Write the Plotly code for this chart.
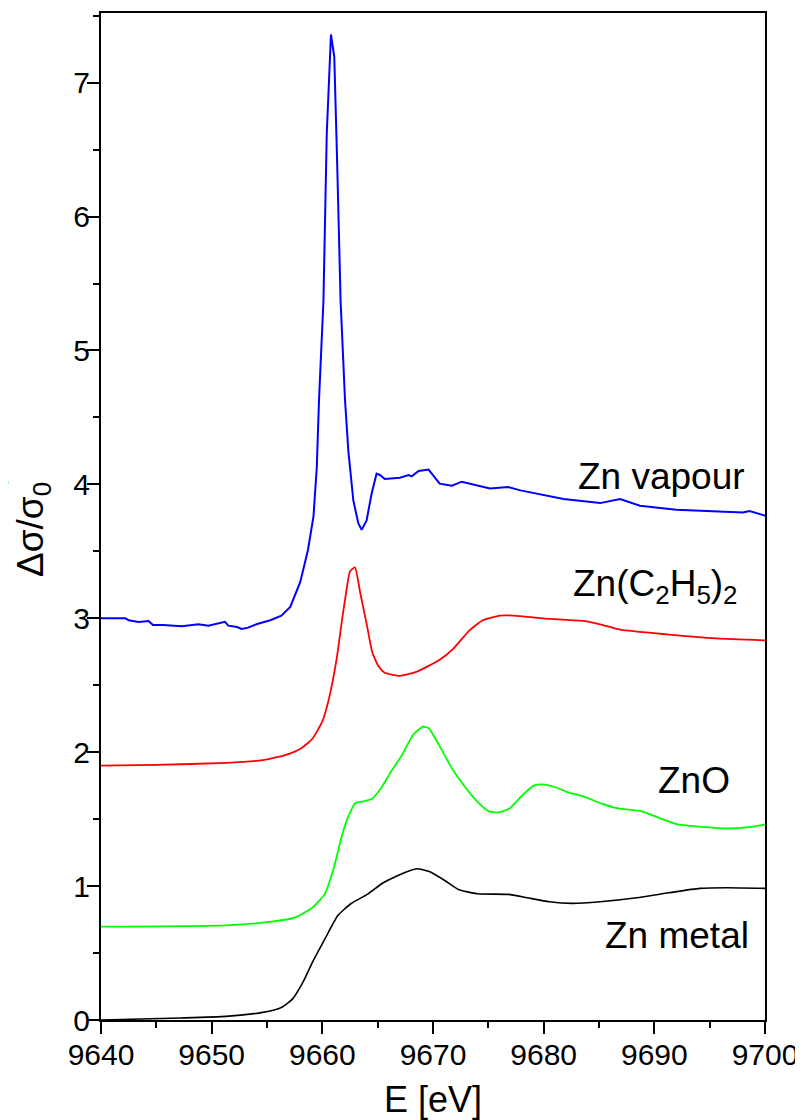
import plotly.graph_objects as go

# ---------------- data ----------------
vap_x = [9640.0, 9642.2, 9642.5, 9643.4, 9644.3, 9644.7, 9645.6, 9647.3, 9648.8, 9649.7,
         9651.2, 9651.5, 9652.3, 9652.7, 9653.3, 9654.1, 9655.3, 9656.3, 9657.1, 9658.0,
         9658.7, 9659.2, 9659.5, 9659.7, 9660.1, 9660.4, 9660.78, 9661.08, 9661.35, 9661.65,
         9662.05, 9662.35, 9662.8, 9663.25, 9663.55, 9664.0, 9664.45, 9664.9, 9665.2, 9665.65,
         9667.0, 9667.8, 9668.07, 9668.7, 9669.6, 9670.0, 9670.6, 9671.7, 9672.6, 9675.15,
         9676.8, 9677.9, 9681.8, 9685.1, 9686.9, 9688.7, 9692.0, 9698.0, 9698.6, 9699.85, 9700.0]
vap_y = [3.00, 3.00, 2.985, 2.973, 2.98, 2.95, 2.95, 2.94, 2.955, 2.945,
         2.973, 2.945, 2.935, 2.92, 2.93, 2.957, 2.985, 3.02, 3.085, 3.27,
         3.51, 3.76, 4.13, 4.63, 5.37, 6.62, 7.36, 7.19, 6.37, 5.37,
         4.63, 4.25, 3.88, 3.71, 3.66, 3.73, 3.93, 4.08, 4.07, 4.04,
         4.05, 4.07, 4.06, 4.10, 4.11, 4.07, 4.005, 3.99, 4.02, 3.97,
         3.98, 3.955, 3.89, 3.86, 3.89, 3.84, 3.81, 3.79, 3.80, 3.77, 3.765]

det_x = [9640.0, 9645.0, 9651.3, 9654.6, 9656.7, 9658.1, 9659.1, 9660.0, 9660.6, 9661.3,
         9661.8, 9662.2, 9662.5, 9662.95, 9663.4, 9664.0, 9664.5, 9665.05, 9665.6, 9667.0,
         9668.5, 9670.6, 9671.8, 9673.3, 9674.5, 9676.05, 9677.25, 9680.6, 9683.6, 9685.1,
         9686.9, 9691.1, 9695.6, 9700.0]
det_y = [1.90, 1.905, 1.92, 1.94, 1.98, 2.03, 2.10, 2.23, 2.40, 2.70,
         3.00, 3.22, 3.35, 3.38, 3.20, 2.96, 2.75, 2.645, 2.595, 2.57,
         2.60, 2.69, 2.77, 2.91, 2.985, 3.02, 3.02, 2.995, 2.98, 2.955,
         2.915, 2.88, 2.85, 2.835]

zno_x = [9640.0, 9651.3, 9655.4, 9657.5, 9659.1, 9660.2, 9661.0, 9661.8, 9662.4, 9663.0,
         9663.7, 9664.5, 9665.3, 9666.1, 9667.2, 9668.2, 9669.1, 9669.6, 9670.7, 9671.7,
         9672.9, 9674.0, 9675.0, 9675.9, 9676.9, 9678.1, 9679.1, 9679.9, 9681.0, 9682.2,
         9683.6, 9685.1, 9686.7, 9688.8, 9690.4, 9692.1, 9694.5, 9696.6, 9698.6, 9700.0]
zno_y = [0.697, 0.707, 0.734, 0.764, 0.839, 0.938, 1.124, 1.385, 1.53, 1.62,
         1.633, 1.653, 1.73, 1.84, 1.98, 2.13, 2.19, 2.18, 2.03, 1.88,
         1.74, 1.63, 1.56, 1.55, 1.58, 1.68, 1.75, 1.76, 1.74, 1.70,
         1.67, 1.62, 1.58, 1.56, 1.51, 1.46, 1.44, 1.43, 1.44, 1.46]

met_x = [9640.0, 9647.2, 9651.3, 9654.6, 9656.3, 9657.3, 9658.3, 9659.1, 9660.2, 9661.4,
         9662.6, 9664.1, 9665.5, 9667.4, 9668.6, 9669.6, 9671.1, 9672.3, 9674.0, 9676.8,
         9678.5, 9680.5, 9682.6, 9685.1, 9688.4, 9691.3, 9694.1, 9696.6, 9700.0]
met_y = [0.00, 0.015, 0.027, 0.057, 0.094, 0.156, 0.29, 0.43, 0.60, 0.78,
         0.87, 0.94, 1.025, 1.10, 1.13, 1.11, 1.04, 0.975, 0.943, 0.938,
         0.913, 0.883, 0.871, 0.883, 0.913, 0.95, 0.983, 0.988, 0.983]

x_ticks = [9640, 9650, 9660, 9670, 9680, 9690, 9700]
y_ticks = [0, 1, 2, 3, 4, 5, 6, 7]

labels = ["Zn vapour", "Zn(C<sub>2</sub>H<sub>5</sub>)<sub>2</sub>", "ZnO", "Zn metal"]
label_x = [9698.4, 9697.7, 9697.0, 9698.7]
label_y = [4.06, 3.24, 1.79, 0.63]

FONT = "Liberation Sans, Arial, sans-serif"

fig = go.Figure()
fig.add_trace(go.Scatter(x=vap_x, y=vap_y, mode="lines", name="Zn vapour",
                         line=dict(color="#0000ff", width=2)))
fig.add_trace(go.Scatter(x=det_x, y=det_y, mode="lines", name="Zn(C2H5)2",
                         line=dict(color="#ff0000", width=1.8, shape="spline", smoothing=0.5)))
fig.add_trace(go.Scatter(x=zno_x, y=zno_y, mode="lines", name="ZnO",
                         line=dict(color="#00ff00", width=1.8, shape="spline", smoothing=0.5)))
fig.add_trace(go.Scatter(x=met_x, y=met_y, mode="lines", name="Zn metal",
                         line=dict(color="#000000", width=1.6, shape="spline", smoothing=0.5)))

for t, lx, ly in zip(labels, label_x, label_y):
    fig.add_annotation(x=lx, y=ly, xref="x", yref="y", text=t, showarrow=False,
                       xanchor="right", yanchor="middle",
                       font=dict(family=FONT, size=37, color="black"))

# y-axis title (placed as rotated text)
fig.add_annotation(x=-0.1024, y=0.4866, xref="paper", yref="paper", text="Δσ/σ<sub>0</sub>",
                   showarrow=False, textangle=-90, xanchor="center", yanchor="middle",
                   font=dict(family=FONT, size=37, color="black"))

# cut-off slide text at the left edge
fig.add_annotation(x=-0.137, y=0.804, xref="paper", yref="paper", text="d", showarrow=False,
                   xanchor="right", yanchor="middle",
                   font=dict(family="Liberation Serif, Times New Roman, serif", size=50, color="#3333cc"))
fig.add_annotation(x=-0.1325, y=0.542, xref="paper", yref="paper", text="..", showarrow=False,
                   xanchor="right", yanchor="middle",
                   font=dict(family=FONT, size=28, color="black"))

axis_common = dict(showgrid=False, zeroline=False, showline=True, linecolor="black", linewidth=2.2,
                   mirror=True, ticks="outside", ticklen=12, tickwidth=2, tickcolor="black",
                   tickfont=dict(family=FONT, size=30, color="black"))

fig.update_xaxes(range=[9640, 9700], tickvals=x_ticks, ticktext=[str(v) for v in x_ticks],
                 ticklabelstandoff=-5,
                 minor=dict(dtick=5, ticks="outside", ticklen=6, tickwidth=2, tickcolor="black"),
                 title=dict(text="E [eV]", font=dict(family=FONT, size=36, color="black"), standoff=22),
                 **axis_common)
fig.update_yaxes(range=[0, 7.52], tickvals=y_ticks, ticktext=[str(v) for v in y_ticks],
                 ticklabelstandoff=-9,
                 minor=dict(dtick=0.5, ticks="outside", ticklen=6, tickwidth=2, tickcolor="black"),
                 **axis_common)

# the page adds an 8 px body margin, so the figure is 8 px smaller than the window
fig.update_layout(width=795, height=1112, margin=dict(l=93, r=38, t=5, b=100, autoexpand=False),
                  plot_bgcolor="white", paper_bgcolor="white", showlegend=False)

fig.write_html("out.html")
